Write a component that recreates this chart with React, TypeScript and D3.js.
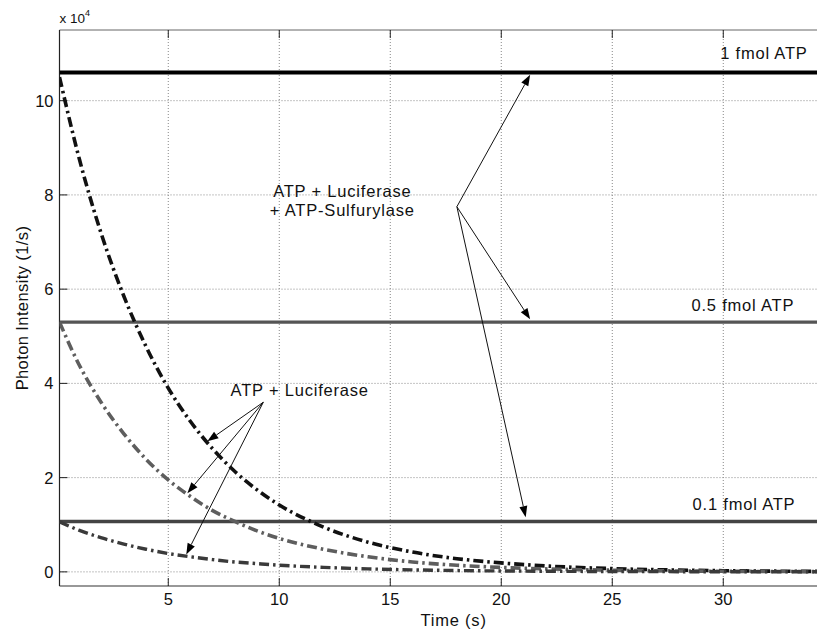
import React from "react";
import * as d3 from "d3";

// Time samples (s)
const times = [0.1, 1, 2, 3, 4, 5, 6, 7, 8, 9, 10, 12, 14, 16, 18, 20, 22, 25, 28, 31, 35.6];
// Photon intensity (x 1e4 1/s), ATP + Luciferase decays
const decay1fmol = [10.5, 8.75, 7.15, 5.85, 4.78, 3.9, 3.19, 2.61, 2.13, 1.74, 1.42, 0.95, 0.63, 0.42, 0.28, 0.19, 0.126, 0.069, 0.037, 0.02, 0.008];
const decay05fmol = [5.3, 4.38, 3.58, 2.93, 2.39, 1.95, 1.6, 1.3, 1.07, 0.87, 0.71, 0.48, 0.32, 0.21, 0.14, 0.095, 0.063, 0.035, 0.019, 0.01, 0.004];
const decay01fmol = [1.06, 0.88, 0.72, 0.59, 0.48, 0.39, 0.32, 0.26, 0.21, 0.175, 0.142, 0.095, 0.063, 0.042, 0.028, 0.019, 0.013, 0.007, 0.004, 0.002, 0.001];
// Constant levels with ATP-Sulfurylase
const constantLevels = [10.6, 5.3, 1.07];
const levelLabels = ["1 fmol ATP", "0.5 fmol ATP", "0.1 fmol ATP"];

const xTicks = [5, 10, 15, 20, 25, 30];
const yTicks = [0, 2, 4, 6, 8, 10];

// annotation geometry in data units
const levelLabelPos = [[33.8, 10.89], [33.2, 5.54], [33.25, 1.31]];
const sulfOrigin = [18.0, 7.75];
const sulfTips = [[21.3, 10.55], [21.3, 5.36], [21.1, 1.16]];
const lucOrigin = [9.28, 3.6];
const lucTips = [[6.76, 2.77], [5.86, 1.67], [5.81, 0.37]];
const sulfText = [[12.84, 7.96, "ATP + Luciferase"], [12.84, 7.55, "+ ATP-Sulfurylase"]];
const lucText = [10.92, 3.73, "ATP + Luciferase"];

const W = 817;
const H = 633;
const left = 59.5;
const top = 30;
const bottom = 586;

export default function App() {
  const x = d3.scaleLinear().domain([0.1, 35.6]).range([left, left + 35.5 * 22.2]);
  const y = d3.scaleLinear().domain([-0.3, 11.5]).range([bottom, top]);
  const right = x(35.6);

  const line = d3
    .line<number>()
    .x((_, i) => x(times[i]))
    .y((d) => y(d))
    .curve(d3.curveMonotoneX);

  const font = "'Liberation Sans', Arial, Helvetica, sans-serif";
  const gridColor = "#888";
  const fs = 16.5;

  const levelStyles = [
    { stroke: "#000", w: 4 },
    { stroke: "#555", w: 3.2 },
    { stroke: "#444", w: 3.5 },
  ];
  const decays = [
    { data: decay1fmol, stroke: "#111", w: 3.6 },
    { data: decay05fmol, stroke: "#5e5e5e", w: 3.6 },
    { data: decay01fmol, stroke: "#3a3a3a", w: 3.4 },
  ];

  const arrow = (o: number[], t: number[], k: string) => {
    const x0 = x(o[0]);
    const y0 = y(o[1]);
    const x1 = x(t[0]);
    const y1 = y(t[1]);
    const ang = Math.atan2(y1 - y0, x1 - x0);
    const L = 11;
    const hw = 4;
    const bx = x1 - L * Math.cos(ang);
    const by = y1 - L * Math.sin(ang);
    const px = -Math.sin(ang) * hw;
    const py = Math.cos(ang) * hw;
    return (
      <g key={k}>
        <line x1={x0} y1={y0} x2={bx} y2={by} stroke="#111" strokeWidth={1} />
        <path d={`M${x1},${y1}L${bx + px},${by + py}L${bx - px},${by - py}Z`} fill="#000" />
      </g>
    );
  };

  return (
    <svg
      width={W}
      height={H}
      style={{ position: "absolute", left: 0, top: 0, background: "#fff", display: "block" }}
      fontFamily={font}
    >
      <defs>
        <clipPath id="plot">
          <rect x={left} y={top} width={right - left} height={bottom - top} />
        </clipPath>
      </defs>
      <rect x={0} y={0} width={W} height={H} fill="#fff" />

      {/* grid */}
      {xTicks.map((t) => (
        <line key={"gx" + t} x1={x(t)} x2={x(t)} y1={top} y2={bottom} stroke={gridColor} strokeWidth={1} strokeDasharray="1,2" />
      ))}
      {yTicks.map((t) => (
        <line key={"gy" + t} x1={left} x2={right} y1={y(t)} y2={y(t)} stroke={gridColor} strokeWidth={1} strokeDasharray="1,2" />
      ))}

      {/* box */}
      <line x1={left} x2={right} y1={top} y2={top} stroke="#666" strokeWidth={1} />
      <line x1={left} x2={right} y1={bottom} y2={bottom} stroke="#333" strokeWidth={1.2} />
      <line x1={left} x2={left} y1={top} y2={bottom} stroke="#222" strokeWidth={1.2} />

      {/* ticks */}
      {xTicks.map((t) => (
        <g key={"tx" + t}>
          <line x1={x(t)} x2={x(t)} y1={bottom} y2={bottom - 8} stroke="#222" strokeWidth={1} />
          <line x1={x(t)} x2={x(t)} y1={top} y2={top + 8} stroke="#222" strokeWidth={1} />
          <text x={x(t)} y={bottom + 19} textAnchor="middle" fontSize={fs} fill="#111">
            {t}
          </text>
        </g>
      ))}
      {yTicks.map((t) => (
        <g key={"ty" + t}>
          <line x1={left} x2={left + 8} y1={y(t)} y2={y(t)} stroke="#222" strokeWidth={1} />
          <text x={left - 6} y={y(t) + 6} textAnchor="end" fontSize={fs} fill="#111">
            {t}
          </text>
        </g>
      ))}

      {/* exponent */}
      <text x={left} y={23} fontSize={13.5} fill="#111">
        x 10
      </text>
      <text x={85} y={16} fontSize={9} fill="#111">
        4
      </text>

      {/* axis labels */}
      <text x={(left + right) / 2} y={626} textAnchor="middle" fontSize={fs} fill="#111" letterSpacing={0.8}>
        Time (s)
      </text>
      <text
        transform={`translate(28,${(top + bottom) / 2}) rotate(-90)`}
        textAnchor="middle"
        fontSize={fs}
        fill="#111"
        letterSpacing={0.4}
      >
        Photon Intensity (1/s)
      </text>

      {/* data */}
      <g clipPath="url(#plot)">
        {constantLevels.map((v, i) => (
          <line key={"lv" + i} x1={left} x2={right} y1={y(v)} y2={y(v)} stroke={levelStyles[i].stroke} strokeWidth={levelStyles[i].w} />
        ))}
        {decays.map((d, i) => (
          <path
            key={"dc" + i}
            d={line(d.data) || ""}
            fill="none"
            stroke={d.stroke}
            strokeWidth={d.w}
            strokeDasharray="10,4,2.5,4"
          />
        ))}
      </g>

      {/* level labels */}
      {levelLabels.map((s, i) => (
        <text key={"ll" + i} x={x(levelLabelPos[i][0])} y={y(levelLabelPos[i][1])} textAnchor="end" fontSize={fs} fill="#111" letterSpacing={0.8}>
          {s}
        </text>
      ))}

      {/* annotations */}
      {sulfText.map((s, i) => (
        <text key={"st" + i} x={x(s[0] as number)} y={y(s[1] as number)} textAnchor="middle" fontSize={fs} fill="#111" letterSpacing={0.8}>
          {s[2]}
        </text>
      ))}
      <text x={x(lucText[0] as number)} y={y(lucText[1] as number)} textAnchor="middle" fontSize={fs} fill="#111" letterSpacing={0.8}>
        {lucText[2]}
      </text>
      {sulfTips.map((t, i) => arrow(sulfOrigin, t, "sa" + i))}
      {lucTips.map((t, i) => arrow(lucOrigin, t, "la" + i))}
    </svg>
  );
}
